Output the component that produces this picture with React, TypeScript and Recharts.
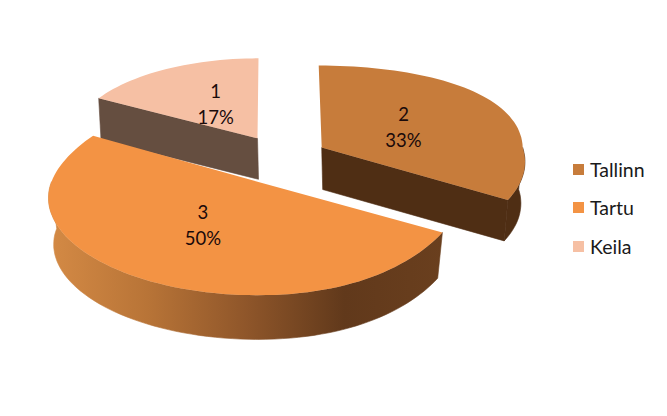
import { Legend, Pie, PieChart } from "recharts";

// drawn back to front, so the order differs from the legend's
const cityNames = ["Keila", "Tallinn", "Tartu"];
const cityValues = [1, 2, 3];
const legendOrder = ["Tallinn", "Tartu", "Keila"];

const chartData = cityNames.map((name, i) => ({ name, value: cityValues[i] }));

const FONT = "Lato, 'Open Sans', sans-serif";
const EXPLODE_X = 47;
const EXPLODE_Y = 25;

const topColors: Record<string, string> = {
  Tallinn: "#C77C3B",
  Tartu: "#F39344",
  Keila: "#F6C0A4",
};
const wallColors: Record<string, string> = {
  Tallinn: "#4F2E14",
  Tartu: "url(#tartuWall)",
  Keila: "#654E40",
};

// squash of the flat pie into the tilted view, per slice
const tilt: Record<string, any> = {
  Tallinn: { rx: 201, ry: 96, kx: 0.13, farKx: 0, ky: 0.17, farY: -0.146, lean: 3, depth: 42, shrink: 0.98, lx: 0.47, ly: 0.42 },
  Tartu: { rx: 206, ry: 92, kx: 0.07, farKx: 0.17, ky: 0.19, farY: 0, lean: 0, depth: 47, shrink: 0.975, lx: 0.53, ly: 0.55 },
  Keila: { rx: 184, ry: 80, kx: 0, farKx: 0, ky: 0, farY: 0, lean: -1, depth: 41, shrink: 0.985, lx: 0.455, ly: 0.5 },
};

const rad = (deg: number) => (deg * Math.PI) / 180;

const apexOf = (cx: number, cy: number, midAngle: number) => ({
  x: cx + EXPLODE_X * Math.cos(rad(midAngle)),
  y: cy - EXPLODE_Y * Math.sin(rad(midAngle)),
});

const project = (name: string, apex: { x: number; y: number }, clock: number, drop = 0) => {
  const t = tilt[name];
  const c = Math.cos(rad(clock));
  const s = Math.sin(rad(clock));
  const shrink = drop ? t.shrink : 1;
  const far = c > 0;
  // the right side of the near half gets its own perspective, faded in so the outline stays smooth
  const k = far ? t.farKx : t.farKx + (t.kx - t.farKx) * (Math.max(0, s) / 0.866);
  const xScale = 1 / (1 + k * c);
  const yScale = far ? 1 + t.farY * c : 1 / (1 + t.ky * c);
  return {
    x: apex.x + t.rx * s * shrink * xScale - (far ? t.lean * c : 0),
    y: apex.y + drop - t.ry * c * shrink * yScale,
  };
};

const toPath = (pts: { x: number; y: number }[]) =>
  pts.map((p, i) => `${i ? "L" : "M"}${p.x.toFixed(1)} ${p.y.toFixed(1)}`).join(" ") + " Z";

const TiltedSlice = (props: any) => {
  const { cx, cy, startAngle, endAngle, name, payload } = props;
  const city = name ?? payload?.name;
  const from = 90 - startAngle;
  const to = 90 - endAngle;
  const apex = apexOf(cx, cy, (startAngle + endAngle) / 2);
  const depth = tilt[city].depth;

  const arc: number[] = [];
  for (let a = from; a <= to + 0.01; a += 2) arc.push(a);

  const top = [apex, ...arc.map((a) => project(city, apex, a))];
  // outer rim is only seen on the near half
  const near = arc.filter((a) => Math.cos(rad(a)) < 0.02);
  const rim = near.length
    ? [
        ...near.map((a) => project(city, apex, a)),
        ...near.slice().reverse().map((a) => project(city, apex, a, depth)),
      ]
    : null;

  const apexDown = { x: apex.x + 1, y: apex.y + depth };
  const cuts: { x: number; y: number }[][] = [];
  if (Math.cos(rad(from - 90)) < -0.02) {
    cuts.push([apex, project(city, apex, from), project(city, apex, from, depth), apexDown]);
  }
  if (Math.cos(rad(to + 90)) < -0.02) {
    cuts.push([apex, project(city, apex, to), project(city, apex, to, depth), apexDown]);
  }

  return (
    <g>
      {cuts.map((c, i) => (
        <path key={i} d={toPath(c)} fill={wallColors[city]} stroke={wallColors[city]} strokeWidth={0.6} />
      ))}
      {rim && <path d={toPath(rim)} fill={wallColors[city]} stroke={wallColors[city]} strokeWidth={0.6} />}
      <path d={toPath(top)} fill={topColors[city]} />
    </g>
  );
};

const SliceLabel = (props: any) => {
  const { cx, cy, midAngle, index, percent } = props;
  const city = chartData[index].name;
  const apex = apexOf(cx, cy, midAngle);
  const t = tilt[city];
  const x = apex.x + t.lx * t.rx * Math.cos(rad(midAngle));
  const y = apex.y - t.ly * t.ry * Math.sin(rad(midAngle));
  return (
    <text x={x} y={y - 6} textAnchor="middle" fontFamily={FONT} fontSize={18.5} fill="#1A0A0A">
      <tspan x={x}>{chartData[index].value}</tspan>
      <tspan x={x} dy={26}>{`${Math.round(percent * 100)}%`}</tspan>
    </text>
  );
};

const CityLegend = () => (
  <div style={{ fontFamily: FONT, fontSize: 19.5, color: "#1A1A1A" }}>
    {legendOrder.map((city) => (
      <div key={city} style={{ display: "flex", alignItems: "center", height: 38.5 }}>
        <span style={{ width: 11, height: 11, marginRight: 6, background: topColors[city] }} />
        {city}
      </div>
    ))}
  </div>
);

export default function App() {
  return (
    <div style={{ position: "absolute", left: 0, top: 0 }}>
      <PieChart width={667} height={416} margin={{ top: 0, right: 0, bottom: 0, left: 0 }}>
        <defs>
          <linearGradient id="tartuWall" gradientUnits="userSpaceOnUse" x1="49" y1="0" x2="443" y2="0">
            <stop offset="0%" stopColor="#D48A45" />
            <stop offset="25%" stopColor="#B87437" />
            <stop offset="50%" stopColor="#8F562A" />
            <stop offset="75%" stopColor="#61391B" />
            <stop offset="100%" stopColor="#6A3F1E" />
          </linearGradient>
        </defs>
        <Pie
          data={chartData}
          dataKey="value"
          nameKey="name"
          cx={281}
          cy={160}
          outerRadius={200}
          startAngle={150}
          endAngle={-210}
          stroke="none"
          shape={TiltedSlice}
          label={SliceLabel}
          labelLine={false}
          isAnimationActive={false}
        />
        <Legend
          content={<CityLegend />}
          layout="vertical"
          wrapperStyle={{ left: 573, top: 150, width: 90, bottom: "auto" }}
        />
      </PieChart>
    </div>
  );
}
